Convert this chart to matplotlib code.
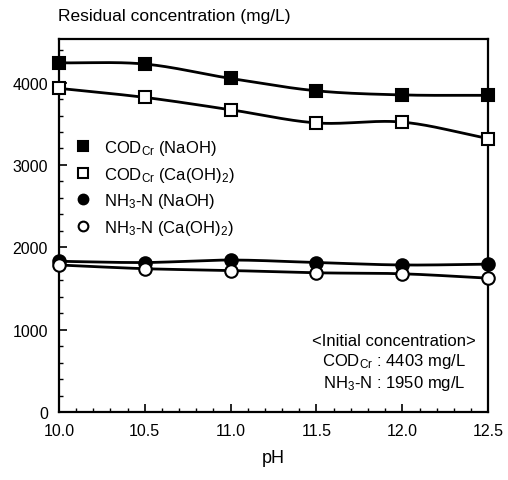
import numpy as np
import matplotlib
matplotlib.use("Agg")
import matplotlib.pyplot as plt
from matplotlib.ticker import MultipleLocator

plt.rcParams['font.family'] = ['Liberation Sans', 'DejaVu Sans']
plt.rcParams['mathtext.fontset'] = 'custom'
plt.rcParams['mathtext.rm'] = 'Liberation Sans'
plt.rcParams['mathtext.it'] = 'Liberation Sans'

ph = [10.0, 10.5, 11.0, 11.5, 12.0, 12.5]
cod_naoh = [4240, 4225, 4050, 3900, 3850, 3845]
cod_caoh = [3930, 3820, 3670, 3510, 3520, 3320]
nh3_naoh = [1830, 1815, 1845, 1815, 1785, 1795]
nh3_caoh = [1785, 1740, 1718, 1690, 1678, 1625]

series = [
    (cod_naoh, 's', 'black', r'COD$_{\mathrm{Cr}}$ (NaOH)'),
    (cod_caoh, 's', 'white', r'COD$_{\mathrm{Cr}}$ (Ca(OH)$_{\mathrm{2}}$)'),
    (nh3_naoh, 'o', 'black', r'NH$_{\mathrm{3}}$-N (NaOH)'),
    (nh3_caoh, 'o', 'white', r'NH$_{\mathrm{3}}$-N (Ca(OH)$_{\mathrm{2}}$)'),
]


def smooth(x, y, n=30):
    x = np.asarray(x, float)
    y = np.asarray(y, float)
    # cubic Hermite curve for drawing the smoothed line through the points
    m = np.gradient(y, x)
    xs, ys = [], []
    for i in range(len(x) - 1):
        h = x[i + 1] - x[i]
        t = np.linspace(0, 1, n)
        h00 = 2 * t**3 - 3 * t**2 + 1
        h10 = t**3 - 2 * t**2 + t
        h01 = -2 * t**3 + 3 * t**2
        h11 = t**3 - t**2
        xs.append(x[i] + t * h)
        ys.append(h00 * y[i] + h10 * h * m[i] + h01 * y[i + 1] + h11 * h * m[i + 1])
    return np.concatenate(xs), np.concatenate(ys)


fig = plt.figure(figsize=(5.08, 4.81), dpi=100)
ax = fig.add_axes([0.116, 0.1414, 0.845, 0.7756])

handles = []
for vals, mk, fc, lab in series:
    sx, sy = smooth(ph, vals)
    ax.plot(sx, sy, color='black', lw=2.0, zorder=2)
    h, = ax.plot(ph, vals, linestyle='none', marker=mk, markersize=8 if mk == 's' else 9,
                 markerfacecolor=fc, markeredgecolor='black', markeredgewidth=1.5,
                 zorder=3, clip_on=False, label=lab)
    handles.append(h)

ax.set_xlim(10.0, 12.5)
ax.set_ylim(0, 4530)
ax.xaxis.set_minor_locator(MultipleLocator(0.1))
ax.yaxis.set_major_locator(MultipleLocator(1000))
ax.yaxis.set_minor_locator(MultipleLocator(200))
ax.set_xticks(ph)
ax.set_xticklabels(['10.0', '10.5', '11.0', '11.5', '12.0', '12.5'])
ax.tick_params(axis='both', which='major', direction='in', length=6, width=1.2,
               labelsize=11.5, pad=8, top=False, right=False)
ax.tick_params(axis='both', which='minor', direction='in', length=3, width=1,
               top=False, right=False)
for s in ax.spines.values():
    s.set_linewidth(1.6)

ax.set_xlabel('pH', fontsize=13, labelpad=8)
fig.text(0.114, 0.965, 'Residual concentration (mg/L)', fontsize=12.5,
         ha='left', va='center')

leg = ax.legend(handles=handles, loc='upper left', bbox_to_anchor=(0.02, 0.752),
                frameon=False, fontsize=12, handlelength=1.0, handletextpad=0.8,
                labelspacing=0.45, borderaxespad=0)
for h in leg.legend_handles:
    h.set_markersize(7)

ax.text(0.78, 0.132,
        '<Initial concentration>\n' + r'COD$_{\mathrm{Cr}}$ : 4403 mg/L' + '\n' +
        r'NH$_{\mathrm{3}}$-N : 1950 mg/L',
        transform=ax.transAxes, ha='center', va='center', fontsize=12,
        linespacing=1.2, multialignment='center')

fig.savefig('out.png', dpi=100)
